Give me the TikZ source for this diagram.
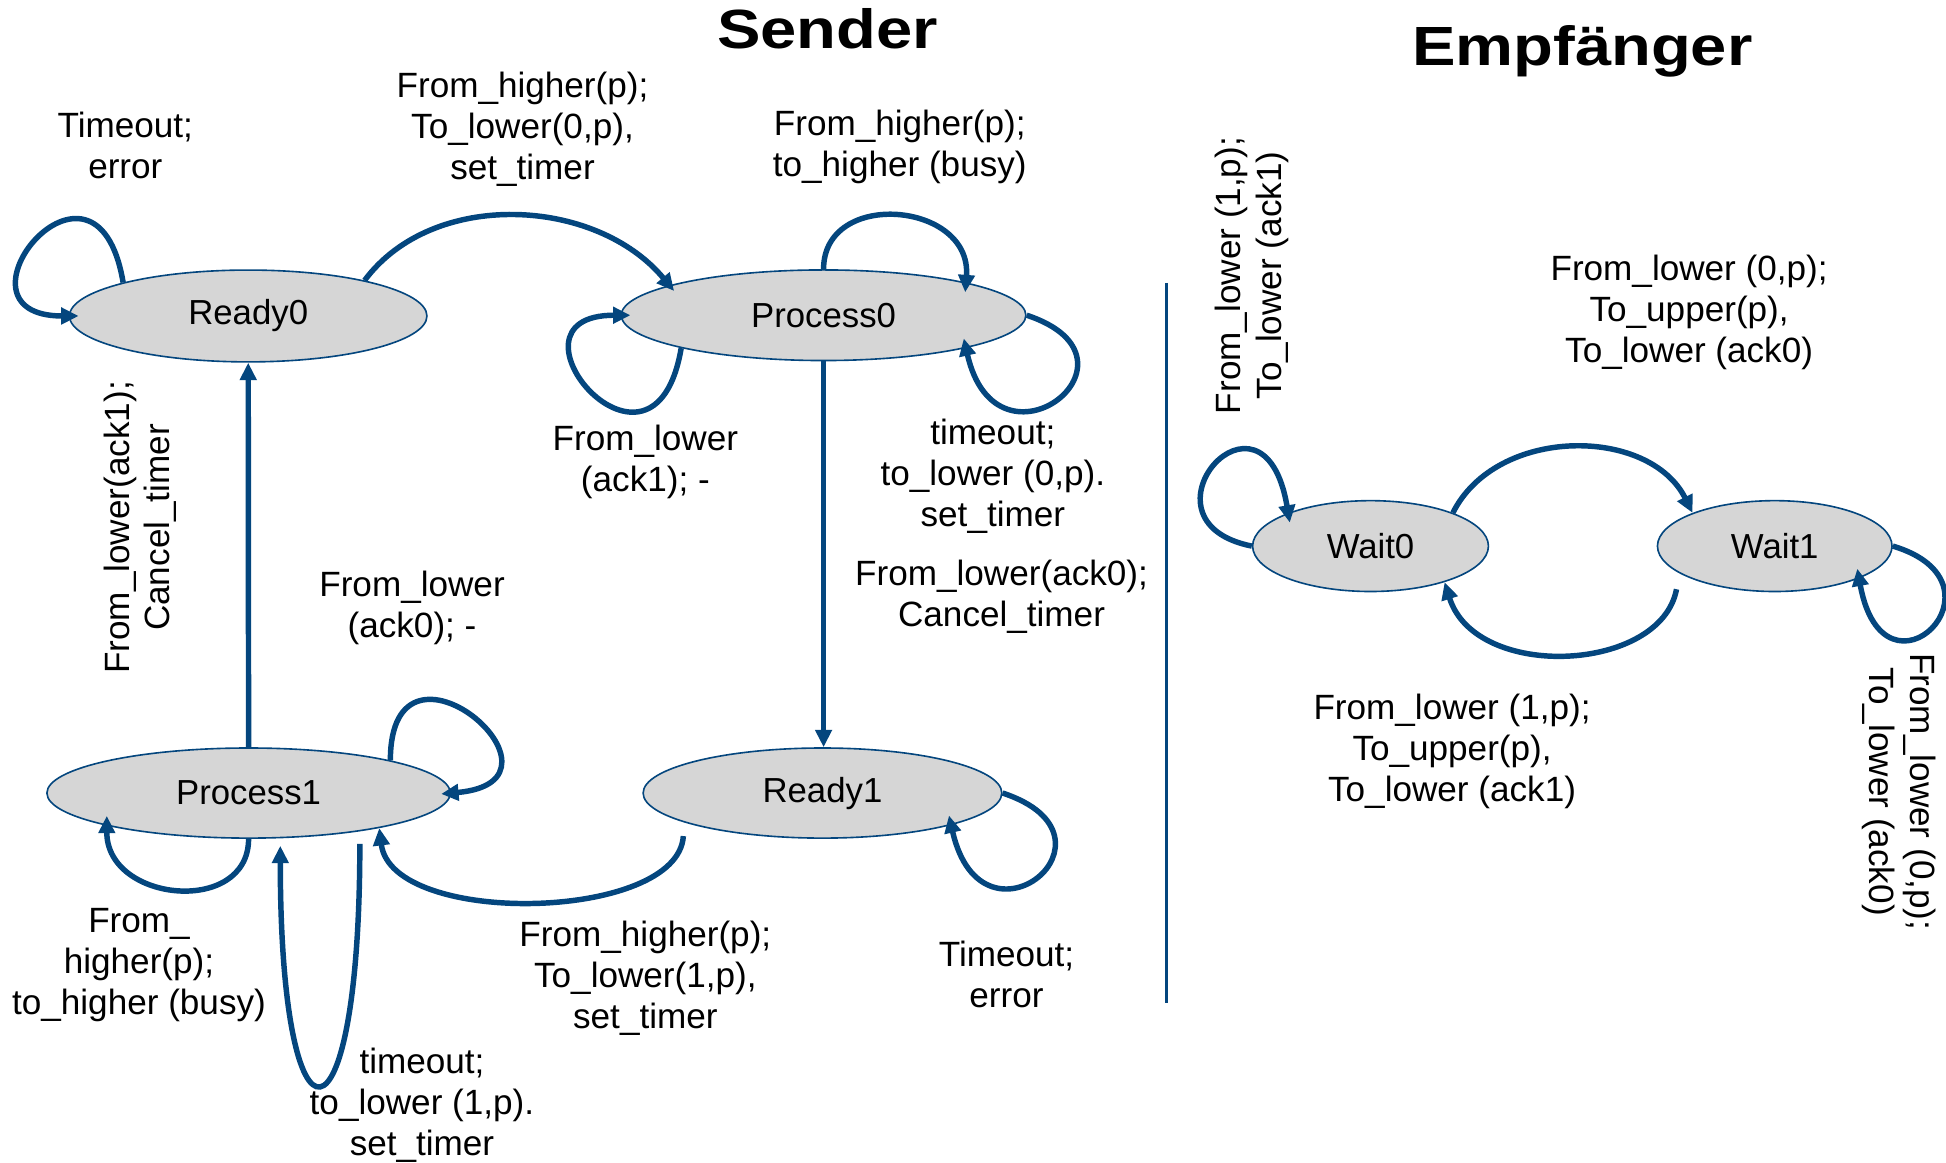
\documentclass[tikz,border=0pt]{standalone}
\usepackage{fontspec}
\setmainfont{Liberation Sans}
\usetikzlibrary{shapes.geometric,arrows.meta}
\definecolor{edgeblue}{RGB}{4,70,126}
\definecolor{statefill}{RGB}{214,214,214}
\begin{document}
\begin{tikzpicture}[x=1pt,y=-1pt,
  statenode/.style={ellipse, draw=edgeblue, line width=1.3pt, fill=statefill,
    inner sep=0pt, font=\fontsize{28}{33}\selectfont},
  flow/.style={draw=edgeblue, line width=4.4pt, -{Triangle[length=14pt,width=13pt]}},
  selfloop/.style={flow, shorten >=-8pt},
  lbl/.style={align=center, inner sep=0pt, font=\fontsize{28.3}{33}\selectfont},
  headline/.style={font=\bfseries\fontsize{44.5}{50}\selectfont, xscale=1.18,
    anchor=base, inner sep=0pt}]
\useasboundingbox (0,0) rectangle (1568,937);

% headings
\node[headline] (sender) at (666.8,38.9) {Sender};
\node[headline] (receiver) at (1275,52.4) {Empfänger};

% sender states
\node[statenode, minimum width=288pt, minimum height=74pt] (ready0) at (200,254.6) {Ready0};
\node[statenode, minimum width=326pt, minimum height=73pt] (process0) at (663.6,254) {Process0};
\node[statenode, minimum width=325pt, minimum height=72.6pt] (process1) at (200.3,639) {Process1};
\node[statenode, minimum width=289pt, minimum height=72.6pt] (ready1) at (662.7,639) {Ready1};

% receiver states
\node[statenode, minimum width=190pt, minimum height=73.2pt] (wait0) at (1104.3,440) {Wait0};
\node[statenode, minimum width=189pt, minimum height=73.2pt] (wait1) at (1430,440) {Wait1};

% separator between sender and receiver
\coordinate (divtop) at (940,228);
\coordinate (divbot) at (940,808);
\draw[edgeblue, line width=2.5pt] (divtop) -- (divbot);

% sender transitions
\draw[selfloop] (ready0.165) .. controls +(-22,-130) and +(-105,0) .. (ready0.west);
\draw[flow, shorten >=-6pt] (ready0.17) .. controls +(55,-74) and +(-59,-71) .. (process0.169);
\draw[selfloop] (process0.north) .. controls +(0,-65) and +(5,-65) .. (process0.13);
\draw[selfloop] (process0.193) .. controls +(-22,130) and +(-105,0) .. (process0.west);
\draw[selfloop] (process0.east) .. controls +(106,35) and +(25,110) .. (process0.347);
\draw[flow] (process0.south) -- (process0.south |- ready1.north);
\draw[selfloop] (ready1.east) .. controls +(106,35) and +(25,110) .. (ready1.346);
\draw[flow, shorten <=11pt] (ready1.192) .. controls +(-5,80) and +(10,80) .. (process1.345);
\draw[flow] (process1.north) -- (ready0.south);
\draw[selfloop] (process1.13) .. controls +(0,-120) and +(110,-10) .. (process1.east);
\draw[selfloop] (process1.south) .. controls +(0,62) and +(0,62) .. (process1.193);
\draw[flow, shorten <=10pt, shorten >=6pt] (process1.341) .. controls +(0,266) and +(0,266) .. (process1.305);

% receiver transitions
\draw[selfloop] (wait0.west) .. controls +(-100,-20) and +(-20,-118) .. (wait0.158);
\draw[flow] (wait0.22) .. controls +(35,-70) and +(-35,-70) .. (wait1.158);
\draw[flow, shorten <=13pt] (wait1.196) .. controls +(-15,80) and +(25,80) .. (wait0.334);
\draw[selfloop] (wait1.east) .. controls +(100,30) and +(20,110) .. (wait1.339);

% sender labels
\node[lbl] (lblA) at (101,117) {Timeout;\\error};
\node[lbl] (lblB) at (421,104.5) {From\_higher(p);\\To\_lower(0,p),\\set\_timer};
\node[lbl] (lblC) at (725,118.5) {From\_higher(p);\\to\_higher (busy)};
\node[lbl] (lblD) at (520,372.5) {From\_lower\\(ack1); -};
\node[lbl] (lblE) at (800,384) {timeout;\\to\_lower (0,p).\\set\_timer};
\node[lbl] (lblF) at (807,480.5) {From\_lower(ack0);\\Cancel\_timer};
\node[lbl] (lblG) at (332,489.5) {From\_lower\\(ack0); -};
\node[lbl, rotate=90] (lblH) at (113,425) {From\_lower(ack1);\\Cancel\_timer};
\node[lbl] (lblI) at (112,777.5) {From\_\\higher(p);\\to\_higher (busy)};
\node[lbl] (lblJ) at (520,788.5) {From\_higher(p);\\To\_lower(1,p),\\set\_timer};
\node[lbl] (lblK) at (811,785.5) {Timeout;\\error};
\node[lbl] (lblL) at (340,890.5) {timeout;\\to\_lower (1,p).\\set\_timer};

% receiver labels
\node[lbl, rotate=90] (lblM) at (1008.5,222) {From\_lower (1,p);\\To\_lower (ack1)};
\node[lbl] (lblN) at (1361,251.5) {From\_lower (0,p);\\To\_upper(p),\\To\_lower (ack0)};
\node[lbl] (lblO) at (1170,605.5) {From\_lower (1,p);\\To\_upper(p),\\To\_lower (ack1)};
\node[lbl, rotate=-90] (lblP) at (1530.5,638) {From\_lower (0,p);\\To\_lower (ack0)};
\end{tikzpicture}
\end{document}
